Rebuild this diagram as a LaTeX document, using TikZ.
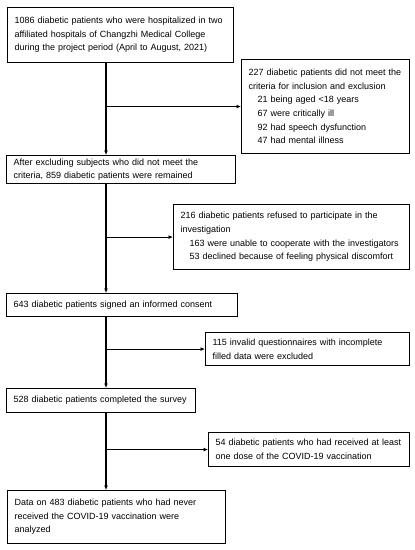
\documentclass[tikz,border=0pt]{standalone}
\usepackage{fontspec}
\setmainfont{Liberation Sans}
\usetikzlibrary{positioning,arrows.meta}
\hyphenpenalty=10000

\tikzstyle{box} = [rectangle, draw=black, line width=1.1pt, fill=white, anchor=north west, align=left, inner xsep=7pt, inner ysep=0pt, font=\fontsize{9}{13.6}\selectfont]
\tikzstyle{arrow} = [line width=1.1pt,-{Latex[length=4.5pt,width=4pt]}]
\newcommand{\ind}{\hspace*{9pt}}

\begin{document}
\begin{tikzpicture}[x=1pt,y=-1pt]
\useasboundingbox (0,0) rectangle (415,550);

%% Main flow
\node (all_pat) [box, text width=212pt, minimum height=55pt] at (7,7) {1086 diabetic patients who were hospitalized in two\\affiliated hospitals of Changzhi Medical College\\during the project period (April to August, 2021)};
\node (rem_pat) [box, text width=215pt, minimum height=28pt] at (6,155) {After excluding subjects who did not meet the\\criteria, 859 diabetic patients were remained};
\node (sig_con) [box, text width=217pt, minimum height=23pt] at (6,293) {643 diabetic patients signed an informed consent};
\node (com_sur) [box, text width=175pt, minimum height=24pt] at (6,388) {528 diabetic patients completed the survey};
\node (ana_dat) [box, text width=204pt, minimum height=53pt] at (7,490) {Data on 483 diabetic patients who had never\\received the COVID-19 vaccination were\\analyzed};

%% Excluded
\node (exc_cri) [box, text width=154pt, minimum height=94pt] at (241,59) {227 diabetic patients did not meet the\\criteria for inclusion and exclusion\\\ind 21 being aged <18 years\\\ind 67 were critically ill\\\ind 92 had speech dysfunction\\\ind 47 had mental illness};
\node (ref_inv) [box, text width=222pt, minimum height=65pt] at (173,204) {216 diabetic patients refused to participate in the\\investigation\\\ind 163 were unable to cooperate with the investigators\\\ind 53 declined because of feeling physical discomfort};
\node (inv_que) [box, text width=190pt, minimum height=33pt] at (205,332) {115 invalid questionnaires with incomplete\\filled data were excluded};
\node (rec_vac) [box, text width=187pt, minimum height=34pt] at (208,432) {54 diabetic patients who had received at least\\one dose of the COVID-19 vaccination};

%% Spine
\coordinate (spine) at (106,0);

%% Arrows
\draw [arrow] (all_pat.south -| spine) -- (rem_pat.north -| spine);
\draw [arrow] (rem_pat.south -| spine) -- (sig_con.north -| spine);
\draw [arrow] (sig_con.south -| spine) -- (com_sur.north -| spine);
\draw [arrow] (com_sur.south -| spine) -- (ana_dat.north -| spine);

\draw [arrow] (spine |- exc_cri.west) -- (exc_cri.west);
\draw [arrow] (spine |- ref_inv.west) -- (ref_inv.west);
\draw [arrow] (spine |- inv_que.west) -- (inv_que.west);
\draw [arrow] (spine |- rec_vac.west) -- (rec_vac.west);
\end{tikzpicture}
\end{document}
